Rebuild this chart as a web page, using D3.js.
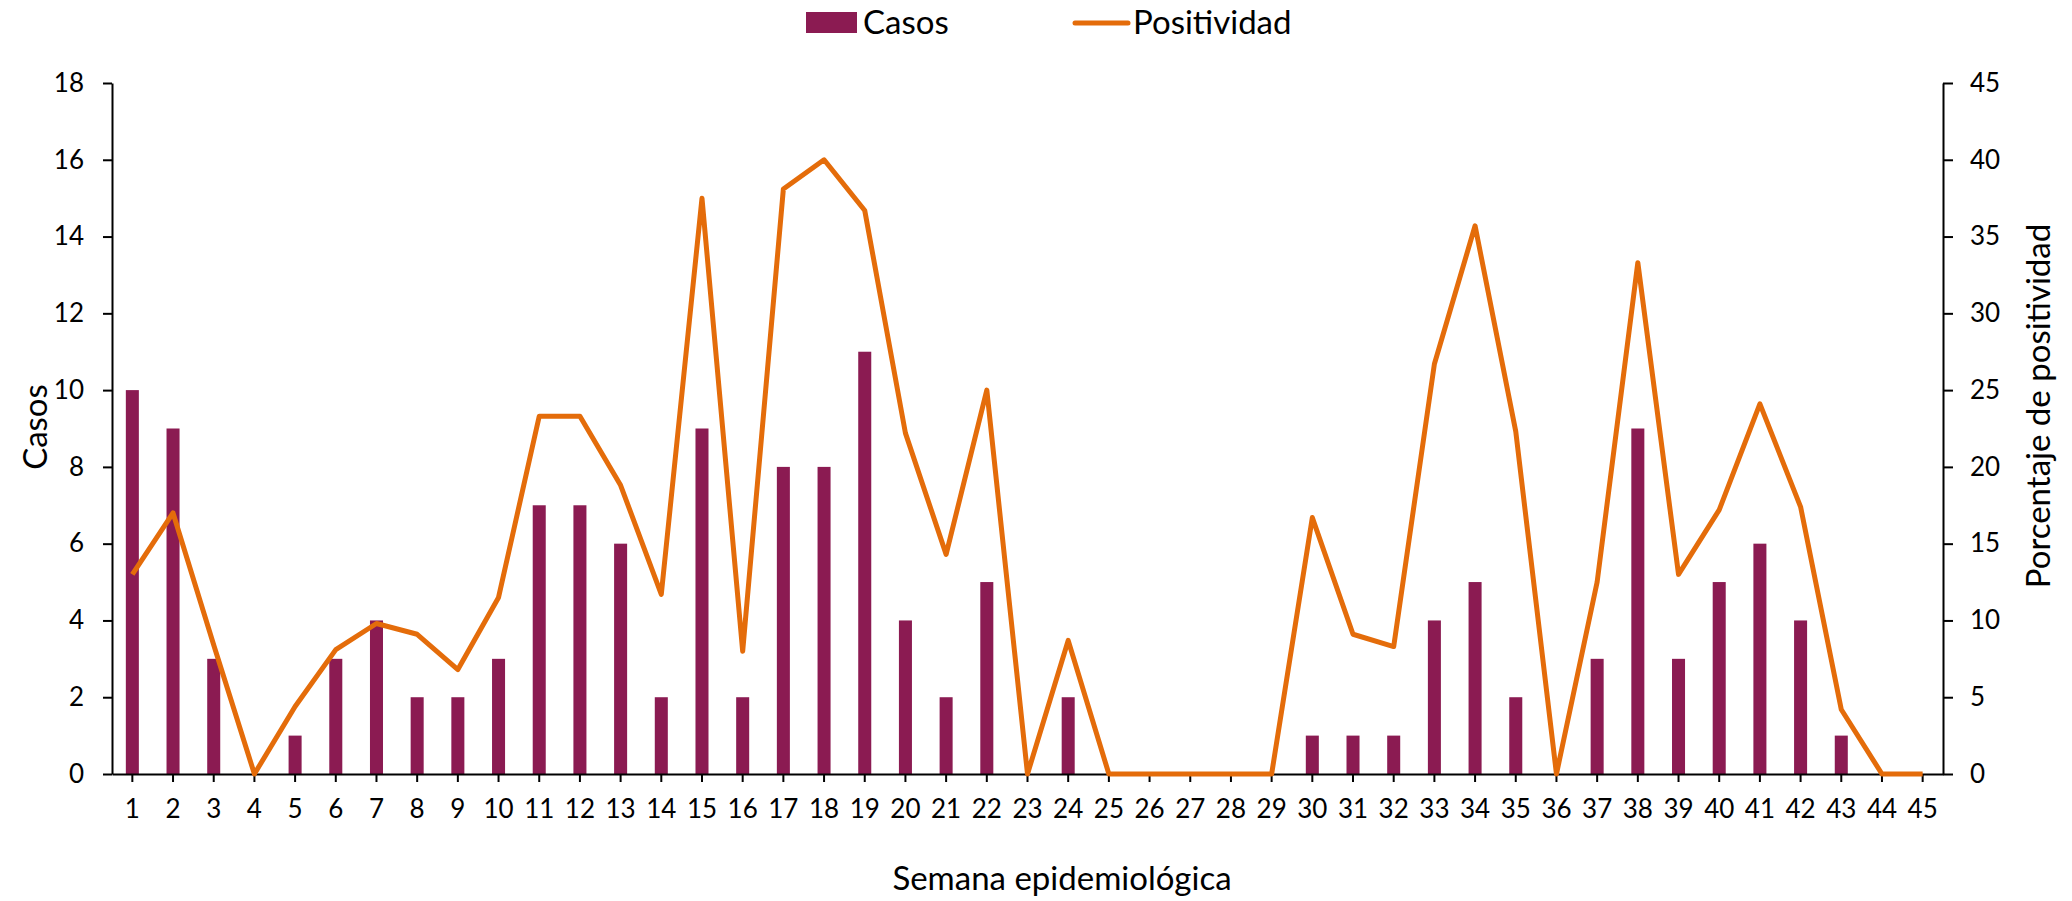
<!DOCTYPE html>
<html>
<head>
<meta charset="utf-8">
<script src="https://cdn.jsdelivr.net/npm/d3@7"></script>
<style>
  html, body { margin: 0; padding: 0; background: #fff; }
  svg text { font-family: Lato, 'Open Sans', sans-serif; fill: #000; }
  .axis .domain, .axis line { stroke: #000; stroke-width: 2px; }
</style>
</head>
<body>
<div class="Canvas"></div>
<script>
const weeks = d3.range(1, 46);
const casos = [10, 9, 3, 0, 1, 3, 4, 2, 2, 3, 7, 7, 6, 2, 9, 2, 8, 8, 11, 4, 2, 5, 0, 2, 0, 0, 0, 0, 0, 1, 1, 1, 4, 5, 2, 0, 3, 9, 3, 5, 6, 4, 1, 0, 0];
const positividad = [13.0, 17.0, 8.4, 0, 4.4, 8.1, 9.8, 9.1, 6.8, 11.5, 23.3, 23.3, 18.8, 11.7, 37.5, 8.0, 38.1, 40.0, 36.7, 22.2, 14.3, 25.0, 0, 8.7, 0, 0, 0, 0, 0, 16.7, 9.1, 8.3, 26.7, 35.7, 22.3, 0, 12.5, 33.3, 13.0, 17.2, 24.1, 17.4, 4.2, 0, 0];
const casosTicks = [0, 2, 4, 6, 8, 10, 12, 14, 16, 18];
const positividadTicks = [0, 5, 10, 15, 20, 25, 30, 35, 40, 45];

const width = 2072;
const height = 901;
const margin = { top: 83, right: 129, bottom: 127, left: 112 };
const barColor = '#8B1B52';
const lineColor = '#E46C0A';
const tickFont = '26px';
const titleFont = '33px';

const svg = d3.select('.Canvas').append('svg').attr('width', width).attr('height', height);

const x = d3
  .scaleBand()
  .domain(weeks)
  .range([margin.left, width - margin.right])
  .paddingInner(0.68)
  .paddingOuter(0.34);
const yLeft = d3.scaleLinear().domain([0, 18]).range([height - margin.bottom, margin.top]);
const yRight = d3.scaleLinear().domain([0, 45]).range([height - margin.bottom, margin.top]);

svg
  .append('g')
  .selectAll('rect')
  .data(weeks)
  .enter()
  .append('rect')
  .attr('x', (d) => x(d))
  .attr('y', (d, i) => yLeft(casos[i]))
  .attr('width', x.bandwidth())
  .attr('height', (d, i) => yLeft(0) - yLeft(casos[i]))
  .attr('fill', barColor);

const xAxis = svg
  .append('g')
  .attr('class', 'axis')
  .attr('transform', `translate(0,${height - margin.bottom})`)
  .call(d3.axisBottom(x).tickSizeInner(8).tickSizeOuter(0).tickPadding(18));
xAxis.selectAll('text').attr('font-size', tickFont);

const leftAxis = svg
  .append('g')
  .attr('class', 'axis')
  .attr('transform', `translate(${margin.left},0)`)
  .call(d3.axisLeft(yLeft).tickValues(casosTicks).tickSizeInner(9).tickSizeOuter(0).tickPadding(19));
leftAxis.selectAll('text').attr('font-size', tickFont);

const rightAxis = svg
  .append('g')
  .attr('class', 'axis')
  .attr('transform', `translate(${width - margin.right},0)`)
  .call(d3.axisRight(yRight).tickValues(positividadTicks).tickSizeInner(10).tickSizeOuter(0).tickPadding(17));
rightAxis.selectAll('text').attr('font-size', tickFont);

const line = d3
  .line()
  .x((d, i) => x(weeks[i]) + x.bandwidth() / 2)
  .y((d) => yRight(d));

svg
  .append('path')
  .datum(positividad)
  .attr('d', line)
  .attr('fill', 'none')
  .attr('stroke', lineColor)
  .attr('stroke-width', 5)
  .attr('stroke-linejoin', 'round');

// axis titles
svg
  .append('text')
  .attr('transform', 'translate(47,427) rotate(-90)')
  .attr('text-anchor', 'middle')
  .attr('font-size', titleFont)
  .text('Casos');
svg
  .append('text')
  .attr('transform', 'translate(2050,406) rotate(-90)')
  .attr('text-anchor', 'middle')
  .attr('font-size', titleFont)
  .text('Porcentaje de positividad');
svg
  .append('text')
  .attr('x', 1062)
  .attr('y', 890)
  .attr('text-anchor', 'middle')
  .attr('font-size', titleFont)
  .text('Semana epidemiológica');

// legend
const legend = svg.append('g');
legend.append('rect').attr('x', 806).attr('y', 12).attr('width', 51).attr('height', 21).attr('fill', barColor);
legend.append('text').attr('x', 863).attr('y', 34).attr('font-size', titleFont).text('Casos');
legend
  .append('line')
  .attr('x1', 1075)
  .attr('x2', 1128)
  .attr('y1', 23)
  .attr('y2', 23)
  .attr('stroke', lineColor)
  .attr('stroke-width', 5)
  .attr('stroke-linecap', 'round');
legend.append('text').attr('x', 1133).attr('y', 34).attr('font-size', titleFont).text('Positividad');
</script>
</body>
</html>
